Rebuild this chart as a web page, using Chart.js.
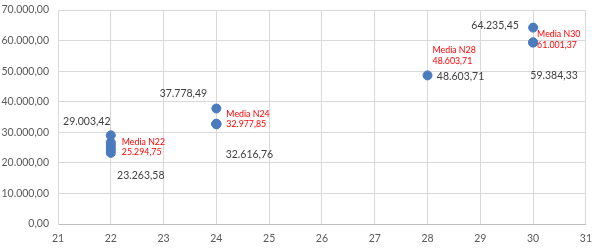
<!DOCTYPE html>
<html>
<head>
<meta charset="utf-8">
<script src="https://cdn.jsdelivr.net/npm/chart.js@4/dist/chart.umd.min.js"></script>
<style>
  html, body { margin: 0; padding: 0; background: #fff; }
  #wrap { width: 600px; height: 251px; }
</style>
</head>
<body>
<div id="wrap"><canvas id="grafico"></canvas></div>
<script>
// valores
var xs = [22, 22, 22, 22, 22, 22, 24, 24, 24, 24, 28, 30, 30, 30];
var ys = [23263.58, 24100, 24900, 25800, 26700, 29003.42,
          37778.49, 32616.76, 32700, 32816.15,
          48603.71,
          64235.45, 59384.33, 59384.33];

var etiquetasX = [22, 22, 24, 24, 28, 30, 30];
var etiquetasY = [29003.42, 23263.58, 37778.49, 32616.76, 48603.71, 64235.45, 59384.33];
// desplazamiento de cada etiqueta respecto a su punto (px)
var etiquetasPos = [[-24, -14], [30, 23], [-33, -15], [33, 30], [33, 1], [-38, -2], [21, 33]];

var mediasX = [22, 24, 28, 30];
var mediasY = [25294.75, 32977.85, 48603.71, 61001.37];
var mediasNombre = ["Media N22", "Media N24", "Media N28", "Media N30"];
var mediasPos = [[11, 0], [10, -4.5], [5, -20], [4, 2]];

var fuente = "Lato, 'Open Sans', sans-serif";

function formato(v) {
    var partes = v.toFixed(2).split(".");
    partes[0] = partes[0].replace(/\B(?=(\d{3})+(?!\d))/g, ".");
    return partes[0] + "," + partes[1];
}

var puntos = xs.map(function (x, i) { return { x: x, y: ys[i] }; });

// plugin para dibujar las etiquetas de datos
var etiquetas = {
    id: "etiquetas",
    afterDatasetsDraw: function (chart) {
        var ctx = chart.ctx;
        var sx = chart.scales.x, sy = chart.scales.y;
        ctx.save();
        ctx.textBaseline = "middle";
        ctx.textAlign = "center";
        ctx.font = "10.5px " + fuente;
        ctx.fillStyle = "#404040";
        etiquetasX.forEach(function (x, i) {
            var px = sx.getPixelForValue(x) + etiquetasPos[i][0];
            var py = sy.getPixelForValue(etiquetasY[i]) + etiquetasPos[i][1];
            ctx.fillText(formato(etiquetasY[i]), px, py);
        });
        ctx.textAlign = "left";
        ctx.fillStyle = "#ff0000";
        ctx.font = "8.8px " + fuente;
        mediasX.forEach(function (x, i) {
            var px = sx.getPixelForValue(x) + mediasPos[i][0];
            var py = sy.getPixelForValue(mediasY[i]) + mediasPos[i][1];
            ctx.fillText(mediasNombre[i], px, py - 5);
            ctx.fillText(formato(mediasY[i]), px, py + 5.5);
        });
        ctx.restore();
    }
};

var ctx = document.getElementById("grafico").getContext("2d");
var chart = new Chart(ctx, {
    type: "scatter",
    data: {
        datasets: [{
            data: puntos,
            backgroundColor: "#4a7bbd",
            borderColor: "#4a7bbd",
            pointRadius: 4.5,
            pointHoverRadius: 4.5
        }]
    },
    options: {
        responsive: true,
        maintainAspectRatio: false,
        animation: false,
        layout: { padding: { top: 0, right: 12, left: 0, bottom: 0 } },
        plugins: {
            legend: { display: false },
            tooltip: { enabled: false }
        },
        scales: {
            x: {
                type: "linear",
                min: 21,
                max: 31,
                ticks: { stepSize: 1, color: "#595959", font: { size: 10.5, family: fuente }, padding: 8 },
                grid: { color: "#d9d9d9", drawTicks: false },
                border: { color: "#bfbfbf" },
                afterFit: function (s) { s.height = 27; }
            },
            y: {
                min: 0,
                max: 70000,
                ticks: {
                    stepSize: 10000,
                    color: "#595959",
                    font: { size: 10.5, family: fuente },
                    padding: 9,
                    callback: function (v) { return formato(v); }
                },
                grid: { color: "#d9d9d9", drawTicks: false },
                border: { color: "#d9d9d9" },
                afterFit: function (s) {
                    s.width = 58;
                    s.paddingTop = 10;
                    s.paddingBottom = 0;
                }
            }
        }
    },
    plugins: [etiquetas]
});
</script>
</body>
</html>
